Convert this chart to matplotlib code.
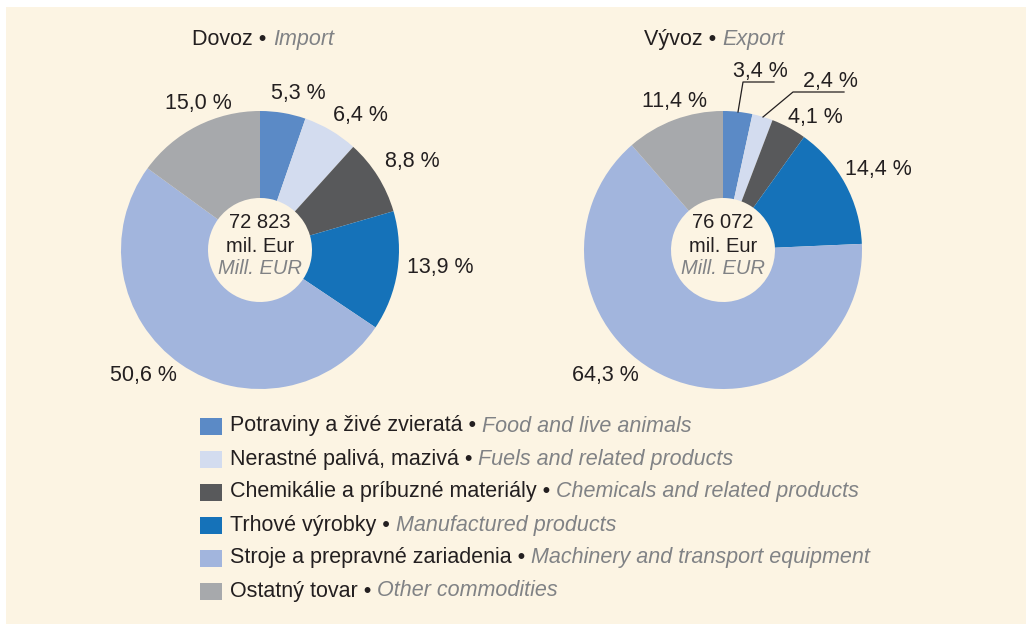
import matplotlib
matplotlib.use("Agg")
import matplotlib.pyplot as plt
from matplotlib.patches import Rectangle

plt.rcParams['font.family'] = ['Liberation Sans', 'DejaVu Sans']

# ---- data ----
categories_sk = ["Potraviny a živé zvieratá", "Nerastné palivá, mazivá",
                 "Chemikálie a príbuzné materiály", "Trhové výrobky",
                 "Stroje a prepravné zariadenia", "Ostatný tovar"]
categories_en = ["Food and live animals", "Fuels and related products",
                 "Chemicals and related products", "Manufactured products",
                 "Machinery and transport equipment", "Other commodities"]
import_share = [5.3, 6.4, 8.8, 13.9, 50.6, 15.0]
export_share = [3.4, 2.4, 4.1, 14.4, 64.3, 11.4]
import_total = "72 823"
export_total = "76 072"
titles_sk = ["Dovoz", "Vývoz"]
titles_en = ["Import", "Export"]

# ---- style ----
colors = ["#5b8ac6", "#d3dcef", "#58595b", "#1572b9", "#a2b5dd", "#a7a9ac"]
BG = "#fcf4e3"
BLACK = "#231f20"
GRAY = "#808285"
FS = 15.5
FS_C = 14.5

W, H = 1026, 624
fig = plt.figure(figsize=(W / 100, H / 100), dpi=100, facecolor="white")
ax = fig.add_axes([0, 0, 1, 1])
ax.add_patch(Rectangle((6, 7), W, H, facecolor=BG, edgecolor="none", zorder=0))

R = 139
HOLE = 52
centers = [(260, 250), (723, 250)]

# label positions (pixel layout, relative to pie centre) per wedge
label_pos = [
    [(38, -157), (100, -134), (152, -88), (180, 18), (-117, 126), (-62, -147)],
    [(37, -178), (107, -169), (92, -133), (155, -81), (-118, 126), (-48, -148)],
]
# leader lines for small export wedges
leaders = {
    (1, 0): [(15, -138), (20, -168), (51, -168)],
    (1, 1): [(40, -133), (70, -158), (121, -158)],
}

for k, (shares, total) in enumerate([(import_share, import_total),
                                     (export_share, export_total)]):
    cx, cy = centers[k]
    # y axis is inverted: start at -90 (top on screen), counterclock in data = clockwise on screen
    ax.pie(shares, colors=colors, startangle=-90, counterclock=True,
           center=(cx, cy), radius=R,
           wedgeprops=dict(width=R - HOLE, edgecolor="none", linewidth=0),
           frame=True)
    for i, v in enumerate(shares):
        dx, dy = label_pos[k][i]
        ax.text(cx + dx, cy + dy, f"{v:.1f} %".replace(".", ","),
                ha="center", va="center", fontsize=FS, color=BLACK)
        if (k, i) in leaders:
            pts = leaders[(k, i)]
            ax.plot([cx + p[0] for p in pts], [cy + p[1] for p in pts],
                    color=BLACK, lw=0.9, zorder=5)
    ax.text(cx, cy - 27, total, ha="center", va="center", fontsize=FS_C, color=BLACK)
    ax.text(cx, cy - 4, "mil. Eur", ha="center", va="center", fontsize=FS_C, color=BLACK)
    ax.text(cx, cy + 19, "Mill. EUR", ha="center", va="center", fontsize=FS_C,
            color=GRAY, style="italic")

ax.set_xlim(0, W)
ax.set_ylim(H, 0)
ax.set_aspect("auto")
ax.axis("off")

renderer = fig.canvas.get_renderer()

# titles
title_x = [263, 714]
for k in range(2):
    t1 = ax.text(0, 45, titles_sk[k] + " • ", ha="left", va="baseline",
                 fontsize=FS, color=BLACK)
    t2 = ax.text(0, 45, titles_en[k], ha="left", va="baseline",
                 fontsize=FS, color=GRAY, style="italic")
    w1 = t1.get_window_extent(renderer).width
    w2 = t2.get_window_extent(renderer).width
    x0 = title_x[k] - (w1 + w2) / 2
    t1.set_x(x0)
    t2.set_x(x0 + w1)

# legend
leg_y0, leg_dy = 426, 33
for i in range(len(categories_sk)):
    y = leg_y0 + i * leg_dy
    ax.add_patch(Rectangle((200, y - 8.5), 22, 17, facecolor=colors[i],
                           edgecolor="none", zorder=3))
    t1 = ax.text(230, y, categories_sk[i] + " • ", ha="left", va="center",
                 fontsize=FS, color=BLACK)
    w1 = t1.get_window_extent(renderer).width
    ax.text(230 + w1, y, categories_en[i], ha="left", va="center",
            fontsize=FS, color=GRAY, style="italic")

fig.savefig("out.png", dpi=100, facecolor="white")
